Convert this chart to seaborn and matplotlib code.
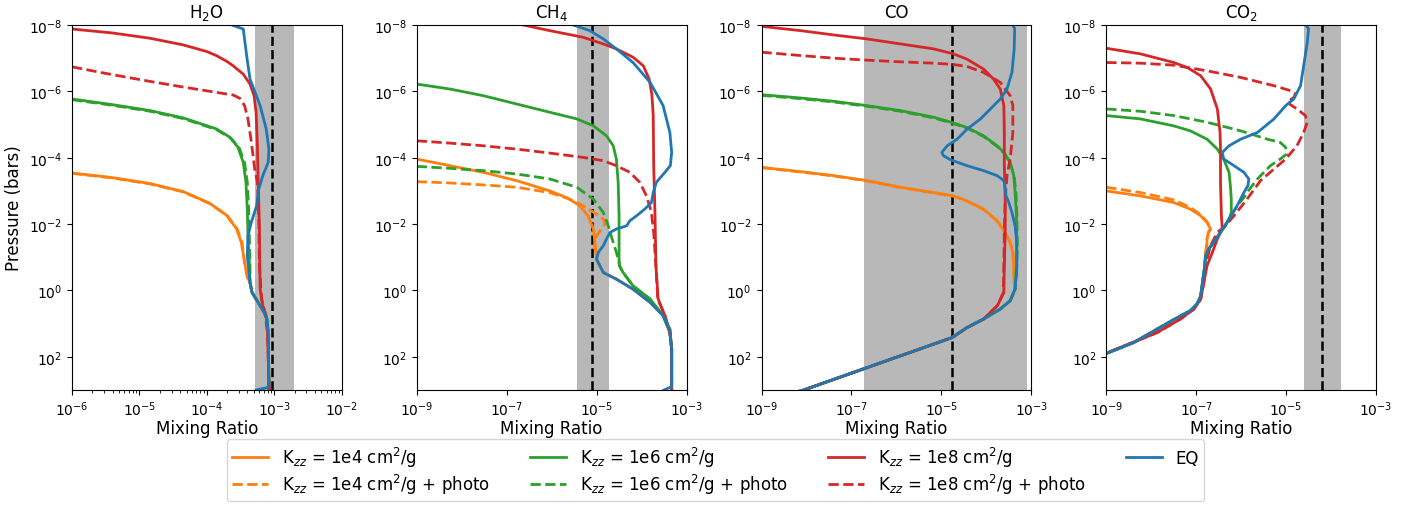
import numpy as np
import matplotlib
matplotlib.use("Agg")
import matplotlib.pyplot as plt
import matplotlib.ticker as mticker
from matplotlib.lines import Line2D
import seaborn as sns

# ---------------- data (log10 mixing ratio, log10 pressure in bars) ----------------
SPECIES = ["H2O", "CH4", "CO", "CO2"]
TITLES = [r"H$_2$O", r"CH$_4$", "CO", r"CO$_2$"]
XLIM_LOG = [(-6, -2), (-9, -3), (-9, -3), (-9, -3)]
BAND_LO = [5.1e-4, 3.6e-6, 1.95e-7, 2.45e-5]
BAND_HI = [1.95e-3, 1.86e-5, 7.9e-4, 1.62e-4]
REF_VALUES = [9.3e-4, 7.9e-6, 1.74e-5, 6.3e-5]

LABELS = [r"K$_{zz}$ = 1e4 cm$^2$/g", r"K$_{zz}$ = 1e4 cm$^2$/g + photo",
          r"K$_{zz}$ = 1e6 cm$^2$/g", r"K$_{zz}$ = 1e6 cm$^2$/g + photo",
          r"K$_{zz}$ = 1e8 cm$^2$/g", r"K$_{zz}$ = 1e8 cm$^2$/g + photo",
          "EQ"]
KEYS = ["K4", "K4P", "K6", "K6P", "K8", "K8P", "EQ"]

# ---- H2O ----
H2O_DEEP_LOGX = [-3.36, -3.33, -3.24, -3.15, -3.11, -3.09, -3.08]
H2O_DEEP_LOGP = [-0.24, 0.06, 0.36, 0.66, 0.86, 1.27, 2.77]
H2O_K4_LOGX = [-6.0, -5.4, -4.84, -4.35, -3.96, -3.71, -3.56, -3.49, -3.44, -3.40]
H2O_K4_LOGP = [-3.54, -3.40, -3.22, -2.98, -2.63, -2.27, -1.86, -1.45, -0.85, -0.40]
H2O_K4P_LOGX = [-6.0, -5.4, -4.84, -4.35, -3.96, -3.70, -3.55, -3.48, -3.44, -3.40]
H2O_K4P_LOGP = [-3.53, -3.39, -3.21, -2.97, -2.62, -2.26, -1.85, -1.45, -0.85, -0.40]
H2O_K6_LOGX = [-6.0, -5.4, -4.84, -4.35, -3.86, -3.66, -3.54, -3.46, -3.42, -3.40, -3.39, -3.37]
H2O_K6_LOGP = [-5.77, -5.60, -5.42, -5.20, -4.87, -4.62, -4.32, -3.86, -3.26, -2.46, -1.65, -0.85]
H2O_K6P_LOGX = [-6.0, -5.4, -4.84, -4.35, -3.86, -3.65, -3.52, -3.44, -3.40, -3.38, -3.37, -3.36]
H2O_K6P_LOGP = [-5.75, -5.58, -5.40, -5.18, -4.85, -4.60, -4.30, -3.84, -3.26, -2.46, -1.65, -0.85]
H2O_K8_LOGX = [-6.0, -5.4, -4.84, -4.35, -4.0, -3.86, -3.70, -3.61, -3.46, -3.36, -3.30, -3.27,
               -3.25, -3.24, -3.22, -3.21, -3.17, -3.12, -3.10, -3.08, -3.07]
H2O_K8_LOGP = [-7.88, -7.76, -7.60, -7.40, -7.20, -7.08, -6.90, -6.77, -6.52, -6.22, -5.87, -5.37,
               -4.36, -3.36, -1.86, -0.05, 0.46, 0.76, 1.27, 2.77, 3.0]
H2O_K8P_LOGX = [-6.0, -5.6, -5.2, -4.84, -4.35, -3.86, -3.61, -3.51, -3.44, -3.39, -3.34, -3.29,
                -3.25, -3.23, -3.22, -3.19, -3.14, -3.10, -3.08, -3.07]
H2O_K8P_LOGP = [-6.74, -6.58, -6.43, -6.30, -6.13, -5.97, -5.89, -5.79, -5.57, -5.17, -4.47, -3.66,
                -3.26, -2.25, -0.74, 0.26, 0.66, 1.27, 2.77, 3.0]
H2O_EQ_LOGX = [-3.63, -3.46, -3.41, -3.36, -3.21, -3.12, -3.08, -3.09, -3.17, -3.23, -3.26, -3.34,
               -3.39, -3.40]
H2O_EQ_LOGP = [-8.0, -7.88, -7.08, -6.37, -5.57, -4.87, -4.27, -3.86, -3.46, -3.06, -2.56, -2.06,
               -1.65, -1.05]

# ---- CH4 ----
CH4_DEEP_LOGX = [-5.0, -4.85, -4.56, -4.19, -3.81, -3.52, -3.37, -3.33, -3.33]
CH4_DEEP_LOGP = [-0.94, -0.54, -0.34, -0.04, 0.36, 0.76, 1.17, 1.77, 2.9]
CH4_K4_LOGX = [-9.0, -8.26, -7.52, -6.78, -6.04, -5.67, -5.37, -5.19, -5.07, -5.04, -5.01]
CH4_K4_LOGP = [-3.96, -3.76, -3.56, -3.31, -3.0, -2.80, -2.55, -2.25, -1.85, -1.45, -1.15]
CH4_K4P_LOGX = [-9.0, -8.26, -7.52, -6.78, -6.04, -5.59, -5.30, -5.0, -4.85, -4.81, -4.89, -5.0, -5.04]
CH4_K4P_LOGP = [-3.28, -3.24, -3.18, -3.11, -2.95, -2.75, -2.55, -2.30, -2.15, -2.0, -1.85, -1.65, -1.35]
CH4_K6_LOGX = [-9.0, -8.26, -7.52, -6.78, -6.04, -5.44, -5.07, -4.78, -4.63, -4.56, -4.52, -4.50,
               -4.50, -4.49, -4.41, -4.19, -3.81, -3.52, -3.37, -3.33, -3.33]
CH4_K6_LOGP = [-6.22, -6.07, -5.87, -5.62, -5.37, -5.17, -4.96, -4.66, -4.36, -3.96, -3.26, -2.25,
               -0.94, -0.74, -0.54, -0.14, 0.26, 0.76, 1.27, 1.77, 3.0]
CH4_K6P_LOGX = [-9.0, -8.26, -7.52, -6.78, -6.04, -5.44, -5.07, -4.85, -4.74, -4.70, -4.63, -4.56,
                -4.50, -4.49, -4.41, -4.19, -3.81, -3.52, -3.37, -3.33, -3.33]
CH4_K6P_LOGP = [-3.74, -3.68, -3.61, -3.51, -3.36, -3.11, -2.75, -2.35, -1.95, -1.75, -1.45, -1.15,
                -0.84, -0.74, -0.54, -0.14, 0.26, 0.76, 1.27, 1.77, 3.0]
CH4_K8_LOGX = [-7.0, -6.63, -6.04, -5.30, -4.85, -4.56, -4.19, -3.96, -3.83, -3.77, -3.74, -3.73,
               -3.70, -3.68, -3.63, -3.48, -3.37, -3.33, -3.33]
CH4_K8_LOGP = [-8.1, -8.0, -7.83, -7.63, -7.43, -7.28, -7.03, -6.77, -6.37, -5.90, -5.27, -3.76,
               -2.25, -0.74, 0.26, 0.76, 1.27, 1.77, 3.0]
CH4_K8P_LOGX = [-9.0, -8.26, -7.52, -6.78, -6.04, -5.30, -4.85, -4.56, -4.26, -4.04, -3.89, -3.78,
                -3.73, -3.68, -3.64, -3.48, -3.37, -3.33, -3.33]
CH4_K8P_LOGP = [-4.51, -4.44, -4.36, -4.26, -4.14, -4.01, -3.91, -3.76, -3.56, -3.26, -2.85, -2.35,
                -1.75, -0.74, 0.26, 0.76, 1.27, 1.77, 3.0]
CH4_EQ_LOGX = [-5.52, -5.15, -4.85, -4.56, -4.19, -3.81, -3.52, -3.37, -3.33, -3.36, -3.48, -3.67,
               -3.74, -3.78, -3.93, -4.11, -4.26, -4.33, -4.56, -4.70, -4.78, -4.85, -4.96]
CH4_EQ_LOGP = [-8.0, -7.83, -7.58, -7.28, -6.87, -6.27, -5.57, -4.76, -4.16, -3.76, -3.56, -3.26,
               -2.95, -2.65, -2.45, -2.25, -2.10, -1.95, -1.85, -1.75, -1.55, -1.35, -1.15]

# ---- CO ----
CO_DEEP_LOGX = [-3.36, -3.47, -3.69, -4.06, -4.43, -4.76, -8.06, -8.5]
CO_DEEP_LOGP = [-0.04, 0.31, 0.56, 0.86, 1.12, 1.42, 3.0, 3.16]
CO_K4_LOGX = [-9.0, -8.13, -7.39, -6.65, -5.91, -5.17, -4.73, -4.43, -4.06, -3.76, -3.58, -3.47,
              -3.41, -3.39, -3.38]
CO_K4_LOGP = [-3.71, -3.58, -3.46, -3.31, -3.11, -2.95, -2.85, -2.70, -2.45, -2.10, -1.75, -1.45,
              -1.15, -0.74, -0.24]
CO_K4P_LOGX = [-9.0, -8.13, -7.39, -6.65, -5.91, -5.17, -4.73, -4.43, -4.06, -3.76, -3.58, -3.47,
               -3.41, -3.39, -3.38]
CO_K4P_LOGP = [-3.70, -3.57, -3.45, -3.30, -3.10, -2.94, -2.84, -2.69, -2.44, -2.09, -1.74, -1.44,
               -1.14, -0.74, -0.24]
CO_K6_LOGX = [-9.0, -8.13, -7.39, -6.65, -5.91, -5.17, -4.73, -4.43, -4.06, -3.76, -3.61, -3.47,
              -3.39, -3.36, -3.33, -3.32, -3.33, -3.35]
CO_K6_LOGP = [-5.90, -5.80, -5.70, -5.57, -5.42, -5.22, -5.05, -4.91, -4.66, -4.36, -4.16, -3.86,
              -3.46, -2.95, -2.25, -1.25, -0.74, -0.24]
CO_K6P_LOGX = [-9.0, -8.13, -7.39, -6.65, -5.91, -5.17, -4.73, -4.43, -4.06, -3.76, -3.61, -3.47,
               -3.38, -3.34, -3.32, -3.31, -3.33, -3.35]
CO_K6P_LOGP = [-5.88, -5.78, -5.68, -5.55, -5.40, -5.20, -5.03, -4.89, -4.64, -4.34, -4.14, -3.84,
               -3.44, -2.93, -2.23, -1.25, -0.74, -0.24]
CO_K8_LOGX = [-9.0, -8.13, -7.39, -6.65, -5.91, -5.17, -4.73, -4.43, -4.06, -3.84, -3.69, -3.61,
              -3.60, -3.60, -3.58, -3.58, -3.60, -3.61, -3.75, -4.06, -4.43, -4.76, -8.06]
CO_K8_LOGP = [-7.96, -7.83, -7.70, -7.58, -7.43, -7.28, -7.13, -6.97, -6.67, -6.37, -6.07, -5.57,
              -4.76, -3.76, -2.75, -1.75, -0.74, 0.06, 0.45, 0.86, 1.12, 1.42, 3.0]
CO_K8P_LOGX = [-9.0, -8.13, -7.39, -6.65, -5.91, -5.17, -4.73, -4.43, -4.06, -3.69, -3.47, -3.41,
               -3.41, -3.47, -3.54, -3.58, -3.60, -3.61, -3.62, -3.75, -4.06, -4.43, -4.76, -8.06]
CO_K8P_LOGP = [-7.18, -7.08, -7.0, -6.94, -6.89, -6.85, -6.81, -6.75, -6.57, -6.27, -5.87, -5.57,
               -4.76, -3.96, -3.46, -2.75, -1.75, -0.74, 0.06, 0.45, 0.86, 1.12, 1.42, 3.0]
CO_EQ_LOGX = [-3.42, -3.37, -3.38, -3.43, -3.54, -3.69, -3.91, -4.13, -4.43, -4.65, -4.87, -4.99,
              -4.95, -4.80, -4.43, -4.06, -3.76, -3.61, -3.58, -3.56, -3.50, -3.43, -3.36, -3.33,
              -3.32, -3.33, -3.35]
CO_EQ_LOGP = [-8.0, -7.90, -7.28, -6.57, -6.07, -5.77, -5.47, -5.17, -4.86, -4.56, -4.36, -4.16,
              -4.06, -3.94, -3.76, -3.61, -3.46, -3.31, -3.06, -2.85, -2.65, -2.35, -1.95, -1.55,
              -0.74, -0.45, -0.24]

# ---- CO2 ----
CO2_DEEP_LOGX = [-6.81, -6.86, -6.90, -6.98, -7.13, -7.50, -7.94, -8.39, -9.0, -9.5]
CO2_DEEP_LOGP = [-0.74, -0.24, 0.16, 0.41, 0.61, 0.88, 1.22, 1.57, 1.90, 2.1]
CO2_K4_LOGX = [-9.0, -8.24, -7.50, -7.13, -6.90, -6.76, -6.68, -6.72, -6.76, -6.76, -6.79]
CO2_K4_LOGP = [-3.0, -2.85, -2.65, -2.45, -2.25, -2.05, -1.85, -1.75, -1.55, -1.35, -1.15]
CO2_K4P_LOGX = [-9.0, -8.24, -7.50, -7.13, -6.90, -6.76, -6.69, -6.73, -6.76, -6.77, -6.79]
CO2_K4P_LOGP = [-3.11, -2.95, -2.73, -2.50, -2.28, -2.07, -1.87, -1.75, -1.55, -1.35, -1.15]
CO2_K6_LOGX = [-9.0, -8.24, -7.50, -7.13, -6.76, -6.53, -6.39, -6.27, -6.24, -6.22, -6.22, -6.27,
               -6.35, -6.46, -6.61, -6.72, -6.79]
CO2_K6_LOGP = [-5.27, -5.17, -4.96, -4.81, -4.56, -4.26, -3.96, -3.56, -3.16, -2.75, -2.35, -2.15,
               -1.95, -1.75, -1.45, -1.25, -1.05]
CO2_K6P_LOGX = [-9.0, -8.24, -7.50, -6.76, -6.01, -5.42, -5.13, -5.01, -4.99, -5.13, -5.35, -5.64,
                -5.87, -5.94, -6.09, -6.27, -6.46, -6.61, -6.72, -6.79]
CO2_K6P_LOGP = [-5.47, -5.40, -5.27, -5.07, -4.81, -4.56, -4.46, -4.31, -4.11, -3.96, -3.76, -3.36,
                -2.95, -2.80, -2.55, -2.15, -1.75, -1.45, -1.25, -1.05]
CO2_K8_LOGX = [-9.0, -8.24, -7.50, -7.20, -6.90, -6.68, -6.53, -6.47, -6.46, -6.46, -6.44, -6.42,
               -6.46, -6.53, -6.64, -6.76, -6.83, -6.90, -7.05, -7.35, -7.87, -9.0]
CO2_K8_LOGP = [-7.30, -7.13, -6.87, -6.72, -6.47, -6.07, -5.47, -4.76, -4.26, -3.26, -2.25, -1.85,
               -1.75, -1.55, -1.15, -0.74, -0.24, 0.26, 0.56, 0.86, 1.27, 1.89]
CO2_K8P_LOGX = [-9.0, -8.24, -7.50, -7.20, -6.76, -6.01, -5.27, -4.90, -4.79, -4.83, -4.98, -4.76,
                -4.57, -4.53, -4.61, -4.76, -5.01, -5.27, -5.57, -5.87, -6.16, -6.35, -6.53, -6.68,
                -6.76, -6.83, -6.90, -7.05, -7.35, -7.87, -9.0]
CO2_K8P_LOGP = [-6.87, -6.85, -6.79, -6.72, -6.62, -6.42, -6.17, -6.02, -5.92, -5.82, -5.67, -5.47,
                -5.27, -5.07, -4.76, -4.36, -3.96, -3.66, -3.31, -2.75, -2.25, -1.95, -1.75, -1.35,
                -0.94, -0.24, 0.26, 0.56, 0.86, 1.27, 1.89]
CO2_EQ_LOGX = [-4.56, -4.50, -4.53, -4.61, -4.68, -4.83, -5.01, -5.27, -5.64, -6.01, -6.27, -6.42,
               -6.39, -6.16, -5.94, -5.83, -5.85, -5.94, -6.09, -6.27, -6.46, -6.61, -6.72, -6.79]
CO2_EQ_LOGP = [-8.0, -7.88, -7.48, -6.77, -6.17, -5.77, -5.57, -5.17, -4.76, -4.56, -4.36, -4.16,
               -3.96, -3.76, -3.56, -3.36, -3.16, -2.95, -2.55, -2.15, -1.75, -1.45, -1.25, -1.05]

# ---------------- assemble profiles per panel ----------------
def with_deep(lx, lp, dx, dp, tail=None):
    x = list(lx) + list(dx)
    p = list(lp) + list(dp)
    if tail is not None:
        x.append(tail[0]); p.append(tail[1])
    return x, p

PROFILES = {
    "H2O": {
        "K4": with_deep(H2O_K4_LOGX, H2O_K4_LOGP, H2O_DEEP_LOGX, H2O_DEEP_LOGP, (-3.08, 3.0)),
        "K4P": with_deep(H2O_K4P_LOGX, H2O_K4P_LOGP, H2O_DEEP_LOGX, H2O_DEEP_LOGP, (-3.08, 3.0)),
        "K6": with_deep(H2O_K6_LOGX, H2O_K6_LOGP, H2O_DEEP_LOGX, H2O_DEEP_LOGP, (-3.08, 3.0)),
        "K6P": with_deep(H2O_K6P_LOGX, H2O_K6P_LOGP, H2O_DEEP_LOGX, H2O_DEEP_LOGP, (-3.08, 3.0)),
        "K8": (H2O_K8_LOGX, H2O_K8_LOGP),
        "K8P": (H2O_K8P_LOGX, H2O_K8P_LOGP),
        "EQ": with_deep(H2O_EQ_LOGX, H2O_EQ_LOGP, H2O_DEEP_LOGX + [-3.08], H2O_DEEP_LOGP + [2.92], (-3.27, 3.0)),
    },
    "CH4": {
        "K4": with_deep(CH4_K4_LOGX, CH4_K4_LOGP, CH4_DEEP_LOGX, CH4_DEEP_LOGP, (-3.33, 3.0)),
        "K4P": with_deep(CH4_K4P_LOGX, CH4_K4P_LOGP, CH4_DEEP_LOGX, CH4_DEEP_LOGP, (-3.33, 3.0)),
        "K6": (CH4_K6_LOGX, CH4_K6_LOGP),
        "K6P": (CH4_K6P_LOGX, CH4_K6P_LOGP),
        "K8": (CH4_K8_LOGX, CH4_K8_LOGP),
        "K8P": (CH4_K8P_LOGX, CH4_K8P_LOGP),
        "EQ": with_deep(CH4_EQ_LOGX, CH4_EQ_LOGP, CH4_DEEP_LOGX, CH4_DEEP_LOGP, (-3.50, 3.0)),
    },
    "CO": {
        "K4": with_deep(CO_K4_LOGX, CO_K4_LOGP, CO_DEEP_LOGX, CO_DEEP_LOGP),
        "K4P": with_deep(CO_K4P_LOGX, CO_K4P_LOGP, CO_DEEP_LOGX, CO_DEEP_LOGP),
        "K6": with_deep(CO_K6_LOGX, CO_K6_LOGP, CO_DEEP_LOGX, CO_DEEP_LOGP),
        "K6P": with_deep(CO_K6P_LOGX, CO_K6P_LOGP, CO_DEEP_LOGX, CO_DEEP_LOGP),
        "K8": (CO_K8_LOGX, CO_K8_LOGP),
        "K8P": (CO_K8P_LOGX, CO_K8P_LOGP),
        "EQ": with_deep(CO_EQ_LOGX, CO_EQ_LOGP, CO_DEEP_LOGX, CO_DEEP_LOGP),
    },
    "CO2": {
        "K4": with_deep(CO2_K4_LOGX, CO2_K4_LOGP, CO2_DEEP_LOGX, CO2_DEEP_LOGP),
        "K4P": with_deep(CO2_K4P_LOGX, CO2_K4P_LOGP, CO2_DEEP_LOGX, CO2_DEEP_LOGP),
        "K6": with_deep(CO2_K6_LOGX, CO2_K6_LOGP, CO2_DEEP_LOGX, CO2_DEEP_LOGP),
        "K6P": with_deep(CO2_K6P_LOGX, CO2_K6P_LOGP, CO2_DEEP_LOGX, CO2_DEEP_LOGP),
        "K8": (CO2_K8_LOGX, CO2_K8_LOGP),
        "K8P": (CO2_K8P_LOGX, CO2_K8P_LOGP),
        "EQ": with_deep(CO2_EQ_LOGX, CO2_EQ_LOGP, CO2_DEEP_LOGX, CO2_DEEP_LOGP),
    },
}

# ---------------- styles ----------------
COLORS = {"K4": "#ff7f0e", "K4P": "#ff7f0e", "K6": "#2ca02c", "K6P": "#2ca02c",
          "K8": "#d62728", "K8P": "#d62728", "EQ": "#1f77b4"}
STYLES = {"K4": "-", "K4P": "--", "K6": "-", "K6P": "--", "K8": "-", "K8P": "--", "EQ": "-"}
DRAW_ORDER = ["K4", "K4P", "K6", "K6P", "K8", "K8P", "EQ"]
LW = 2.0

plt.rcParams["font.family"] = ["DejaVu Sans"]
plt.rcParams["font.size"] = 12
plt.rcParams["xtick.labelsize"] = 10
plt.rcParams["ytick.labelsize"] = 10

fig, axes = plt.subplots(1, 4, figsize=(14.22, 5.06), dpi=100)
fig.subplots_adjust(left=0.0506, right=0.9677, top=0.9486, bottom=0.2273, wspace=0.278)

for i, (sp, ax) in enumerate(zip(SPECIES, axes)):
    ax.set_xscale("log")
    ax.set_yscale("log")
    ax.axvspan(BAND_LO[i], BAND_HI[i], color="#b8b8b8", lw=0, zorder=0.5)
    ax.axvline(REF_VALUES[i], color="black", ls="--", lw=1.8, zorder=1)
    for key in DRAW_ORDER:
        lx, lp = PROFILES[sp][key]
        sns.lineplot(x=10 ** np.array(lx), y=10 ** np.array(lp), ax=ax, sort=False,
                     estimator=None, color=COLORS[key], linestyle=STYLES[key], lw=LW,
                     zorder=2)
    lo, hi = XLIM_LOG[i]
    ax.set_xlim(10.0 ** lo, 10.0 ** hi)
    ax.set_ylim(1e3, 1e-8)
    ax.yaxis.set_major_locator(mticker.FixedLocator([10.0 ** k for k in range(-8, 3, 2)]))
    ax.yaxis.set_minor_locator(mticker.NullLocator())
    if i == 0:
        ax.xaxis.set_major_locator(mticker.FixedLocator([10.0 ** k for k in range(lo, hi + 1)]))
        ax.xaxis.set_minor_locator(mticker.LogLocator(base=10, subs=np.arange(2, 10), numticks=20))
        ax.set_ylabel("Pressure (bars)")
    else:
        ax.xaxis.set_major_locator(mticker.FixedLocator([10.0 ** k for k in range(lo, hi + 1, 2)]))
        ax.xaxis.set_minor_locator(mticker.NullLocator())
        ax.set_ylabel("")
    ax.xaxis.set_major_formatter(mticker.LogFormatterSciNotation())
    ax.yaxis.set_major_formatter(mticker.LogFormatterSciNotation())
    ax.set_xlabel("Mixing Ratio", labelpad=0.5)
    ax.set_title(TITLES[i], fontsize=12)
    if ax.get_legend() is not None:
        ax.get_legend().remove()

handles = [Line2D([], [], color=COLORS[k], ls=STYLES[k], lw=LW) for k in KEYS]
fig.legend(handles, LABELS, loc="lower center", bbox_to_anchor=(0.503, 0.008), ncol=4,
           fontsize=12, frameon=True, columnspacing=2.4, labelspacing=0.2,
           borderpad=0.3, borderaxespad=0.0, handlelength=2.2)

fig.savefig("out.png", dpi=100)
